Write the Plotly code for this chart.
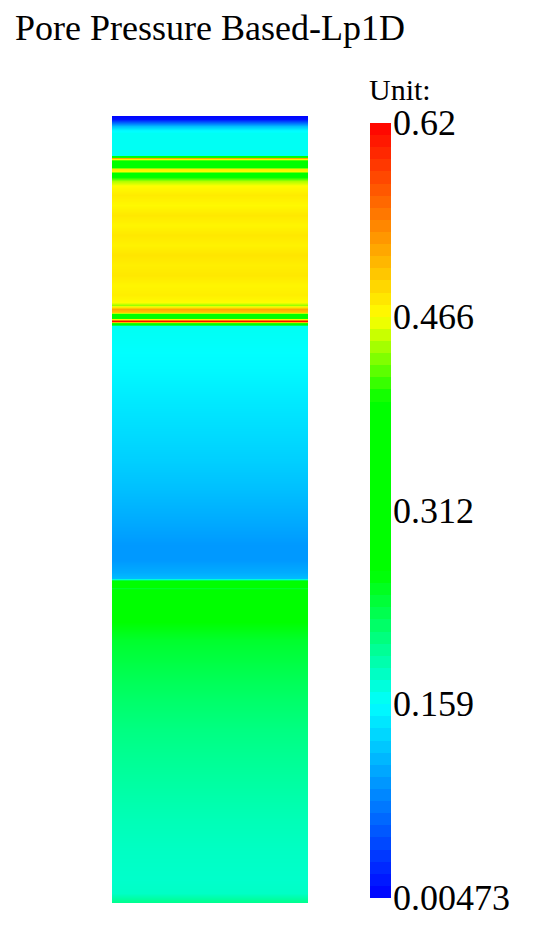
import plotly.graph_objects as go

# ---------------- data ----------------
title_text = "Pore Pressure Based-Lp1D"
unit_label = "Unit:"

# relative depth of each sampled point (0 = top of column, 100 = bottom)
depth = [0.00, 0.38, 0.76, 1.27, 1.78, 2.16, 4.96, 5.34, 5.59, 5.97, 6.35,
         6.73, 6.99, 7.37, 7.75, 8.26, 8.89, 10.04, 11.31, 12.58, 13.85,
         15.12, 16.39, 17.66, 18.93, 20.20, 21.47, 22.74, 23.63, 24.02,
         24.52, 24.90, 25.29, 25.67, 26.05, 26.43, 26.68, 28.46, 32.27,
         36.09, 39.90, 43.71, 47.52, 51.33, 54.51, 56.42, 57.94, 58.70,
         59.09, 59.59, 59.97, 60.48, 63.41, 66.58, 70.39, 74.21, 78.02,
         81.83, 85.64, 89.45, 93.27, 97.08, 98.73, 99.62, 100.00]

# pore pressure based Lp1D value at each depth
lp1d = [0.008, 0.015, 0.060, 0.120, 0.155, 0.163, 0.163, 0.520, 0.420,
        0.345, 0.345, 0.478, 0.470, 0.355, 0.400, 0.445, 0.468, 0.478,
        0.470, 0.480, 0.472, 0.480, 0.474, 0.482, 0.476, 0.480, 0.472,
        0.476, 0.468, 0.440, 0.520, 0.500, 0.345, 0.400, 0.615, 0.300,
        0.163, 0.161, 0.155, 0.146, 0.138, 0.130, 0.120, 0.108, 0.097,
        0.097, 0.108, 0.118, 0.290, 0.300, 0.245, 0.300, 0.270, 0.245,
        0.232, 0.220, 0.210, 0.202, 0.195, 0.188, 0.183, 0.180, 0.182,
        0.200, 0.205]

zmin, zmax = 0.00473, 0.62
tick_vals = [0.00473, 0.159, 0.312, 0.466, 0.62]
tick_text = ["0.00473", "0.159", "0.312", "0.466", "0.62"]

# ---------------- colour maps ----------------
base_stops = [(0.0, (0, 0, 255)), (0.25, (0, 255, 255)), (0.42, (0, 255, 0)),
              (0.64, (0, 255, 0)), (0.75, (255, 255, 0)), (1.0, (255, 0, 0))]

smooth_scale = [[t, "rgb(%d,%d,%d)" % c] for t, c in base_stops]


def base_color(t):
    for (t0, c0), (t1, c1) in zip(base_stops[:-1], base_stops[1:]):
        if t0 <= t <= t1:
            f = (t - t0) / (t1 - t0) if t1 > t0 else 0
            return tuple(round(a + (b - a) * f) for a, b in zip(c0, c1))
    return base_stops[-1][1]


n_levels = 64
stepped_scale = []
for i in range(n_levels):
    col = "rgb(%d,%d,%d)" % base_color((i + 0.5) / n_levels)
    stepped_scale.append([i / n_levels, col])
    stepped_scale.append([(i + 1) / n_levels, col])

serif = "Liberation Serif"

# figure is placed in the page with the default 8px body margin
W, H = 542, 930
bar_left, bar_right, bar_top, bar_bottom = 362, 383, 115, 890
bar_len = bar_bottom - bar_top

fig = go.Figure()
fig.add_trace(go.Heatmap(
    z=[[v, v] for v in lp1d],
    x=[0, 1],
    y=depth,
    zmin=zmin, zmax=zmax,
    colorscale=smooth_scale,
    zsmooth="best",
    showscale=False,
    hoverinfo="skip",
))
# colour legend (stepped, 64 levels)
fig.add_trace(go.Scatter(
    x=[0.5], y=[-50], mode="markers", hoverinfo="skip", showlegend=False,
    marker=dict(color=[zmin], cmin=zmin, cmax=zmax, colorscale=stepped_scale,
                showscale=True,
                colorbar=dict(
                    thicknessmode="pixels", thickness=bar_right - bar_left,
                    lenmode="pixels", len=bar_len,
                    x=bar_left / W, xanchor="left", xpad=0,
                    y=(H - (bar_top + bar_bottom) / 2) / H, yanchor="middle",
                    ypad=0, outlinewidth=0,
                    tickvals=tick_vals, showticklabels=False, ticks="")),
))

annotations = []
for v, t in zip(tick_vals, tick_text):
    frac = (v - zmin) / (zmax - zmin)
    annotations.append(dict(
        text=t, x=bar_right / W, y=(H - bar_bottom + frac * bar_len) / H,
        xref="paper", yref="paper", xanchor="left", yanchor="middle",
        showarrow=False, font=dict(family=serif, size=36, color="black")))
annotations.append(dict(
    text=unit_label, x=359 / W, y=1 - 81 / H, xref="paper", yref="paper",
    xanchor="left", yanchor="middle", showarrow=False,
    font=dict(family=serif, size=30, color="black")))
annotations.append(dict(
    text=title_text, x=4.5 / W, y=1 - 19.5 / H, xref="paper", yref="paper",
    xanchor="left", yanchor="middle", showarrow=False,
    font=dict(family=serif, size=36, color="black")))

fig.update_layout(
    width=W, height=H,
    margin=dict(l=0, r=0, t=0, b=0),
    font=dict(family=serif, color="black"),
    paper_bgcolor="white", plot_bgcolor="white",
    xaxis=dict(domain=[104 / W, 300 / W], range=[-0.5, 1.5], visible=False,
               fixedrange=True),
    yaxis=dict(domain=[(H - 895) / H, (H - 108) / H], range=[100, 0],
               visible=False, fixedrange=True),
    annotations=annotations,
    showlegend=False,
)

fig.write_html("out.html")
